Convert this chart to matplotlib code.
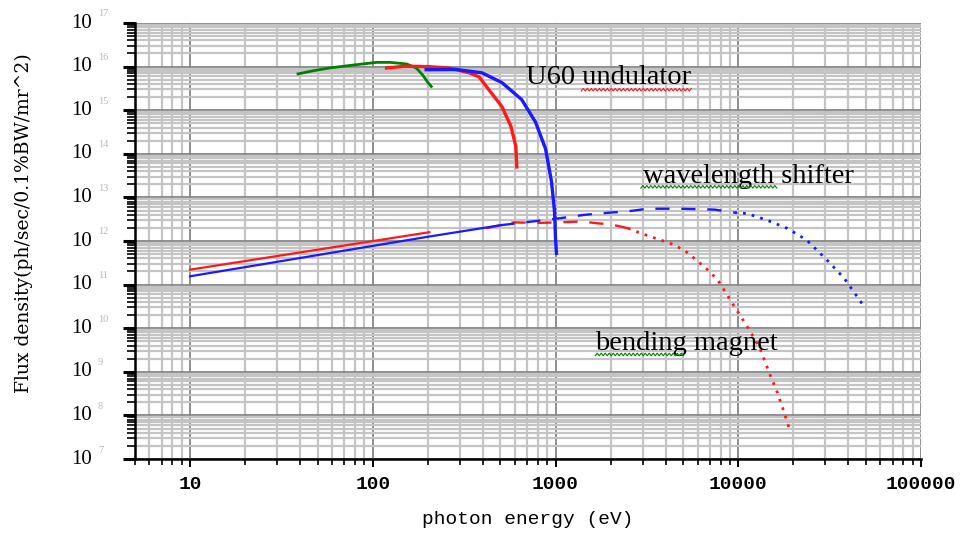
import numpy as np
import matplotlib
matplotlib.use("Agg")
import matplotlib.pyplot as plt
from matplotlib.ticker import LogLocator, NullFormatter, FixedLocator

# --- U60 undulator harmonics ---
und1_e = [39, 47, 58, 72, 88, 105, 124, 153, 173, 187, 199, 209]
und1_f = [6.8e15, 8.0e15, 9.3e15, 1.04e16, 1.15e16, 1.25e16, 1.25e16, 1.15e16, 9.3e15, 6.5e15, 4.5e15, 3.5e15]

und2_e = [119, 150, 200, 262, 337, 382, 432, 509, 570, 606, 614]
und2_f = [9.3e15, 1.02e16, 1.0e16, 9.3e15, 7.2e15, 5.8e15, 2.95e15, 1.21e15, 4.3e14, 1.5e14, 5.0e13]

und3_e = [196, 286, 396, 509, 653, 778, 882, 951, 988, 1000, 1012]
und3_f = [8.5e15, 8.6e15, 7.2e15, 4.3e15, 1.75e15, 5.3e14, 1.3e14, 2.3e13, 4.7e12, 1.15e12, 5.2e11]

# --- bending magnet (red) ---
bm_solid_e = [10, 204]
bm_solid_f = [2.2e11, 1.59e12]
bm_dash_e = [417, 591, 809, 1040, 1384, 1713, 2016, 2492]
bm_dash_f = [1.96e12, 2.67e12, 2.6e12, 2.67e12, 2.8e12, 2.54e12, 2.4e12, 1.96e12]
bm_dot_e = [2492, 2933, 3628, 4490, 5280, 6790, 7700, 9500, 11600, 13200, 14700, 16300, 17800, 19000]
bm_dot_f = [1.96e12, 1.5e12, 1.11e12, 8.1e11, 5.4e11, 2.2e11, 1.3e11, 3.2e10, 8.6e9, 3.3e9, 1.0e9, 3.5e8, 1.2e8, 5e7]

# --- wavelength shifter (blue) ---
ws_solid_e = [10, 200, 500]
ws_solid_f = [1.55e11, 1.25e12, 2.3e12]
ws_dash_e = [500, 1040, 1455, 2016, 2400, 3200, 4840, 7420, 9500]
ws_dash_f = [2.3e12, 3.3e12, 4.0e12, 4.5e12, 4.7e12, 5.5e12, 5.5e12, 5.25e12, 4.5e12]
ws_dot_e = [9500, 11200, 14400, 18500, 23700, 30500, 38000, 48400]
ws_dot_f = [4.5e12, 4.25e12, 3.0e12, 1.96e12, 1.05e12, 3.7e11, 1.4e11, 3.3e10]

x_ticks = [10, 100, 1000, 10000, 100000]
y_exps = list(range(7, 18))

RED = "#ff1a1a"
BLUE = "#1a1aff"
GREEN = "#008000"

fig = plt.figure(figsize=(9.61, 5.36), dpi=100)
ax = fig.add_axes([135 / 961, 1 - 459 / 536, (921 - 135) / 961, (459 - 23) / 536])
ax.set_xscale("log")
ax.set_yscale("log")
ax.set_xlim(5, 1e5)
ax.set_ylim(1e7, 1e17)
ax.autoscale(False)

# grid
ax.xaxis.set_minor_locator(LogLocator(base=10, subs=np.arange(2, 10), numticks=20))
ax.yaxis.set_minor_locator(LogLocator(base=10, subs=np.arange(2, 10), numticks=30))
ax.yaxis.set_major_locator(FixedLocator([10.0 ** e for e in y_exps]))
ax.xaxis.set_major_locator(FixedLocator(x_ticks))
ax.grid(which="minor", color="#c4c4c4", lw=1.6, zorder=0)
ax.grid(which="major", color="#858585", lw=1.3, zorder=0)
ax.set_axisbelow(True)

for s in ["top", "right"]:
    ax.spines[s].set_visible(False)
for s in ["left", "bottom"]:
    ax.spines[s].set_linewidth(1.8)

# curves
ax.plot(und1_e, und1_f, color=GREEN, lw=2.0, zorder=3)
ax.plot(und2_e, und2_f, color=RED, lw=2.4, zorder=3)
ax.plot(und3_e, und3_f, color=BLUE, lw=2.4, zorder=3)

ax.plot(bm_solid_e, bm_solid_f, color=RED, lw=1.6, zorder=3)
ax.plot(bm_dash_e, bm_dash_f, color=RED, lw=1.7, dashes=(6, 5), zorder=3)
ax.plot(bm_dot_e, bm_dot_f, color=RED, lw=2.0, dashes=(1, 2.2), zorder=3)

ax.plot(ws_solid_e, ws_solid_f, color=BLUE, lw=1.6, zorder=3)
ax.plot(ws_dash_e, ws_dash_f, color=BLUE, lw=1.7, dashes=(6, 5), zorder=3)
ax.plot(ws_dot_e, ws_dot_f, color=BLUE, lw=2.0, dashes=(1, 2.2), zorder=3)

# ticks
ax.tick_params(axis="y", which="major", direction="out", length=9, width=2.2, labelleft=False)
ax.tick_params(axis="y", which="minor", direction="out", length=6, width=1.2)
ax.tick_params(axis="x", which="major", direction="out", length=6, width=1.4, pad=6)
ax.tick_params(axis="x", which="minor", direction="out", length=4, width=1.2)
ax.yaxis.set_minor_formatter(NullFormatter())
ax.xaxis.set_minor_formatter(NullFormatter())
ax.set_xticklabels([str(v) for v in x_ticks], family="Liberation Mono", fontsize=14, fontweight="bold")

for e in y_exps:
    ax.annotate("10", xy=(0, 10.0 ** e), xycoords=("axes fraction", "data"),
                xytext=(-43, 0), textcoords="offset pixels", ha="right", va="center",
                family="Liberation Serif", fontsize=15, annotation_clip=False)
    ax.annotate(str(e), xy=(0, 10.0 ** e), xycoords=("axes fraction", "data"),
                xytext=(-37, 9), textcoords="offset pixels", ha="left", va="center",
                family="Liberation Serif", fontsize=7.5, color="#b8b8b8", annotation_clip=False)

ax.set_xlabel("photon energy (eV)", family="Liberation Mono", fontsize=14, labelpad=13)
fig.text(24 / 961, 1 - 223 / 536, "Flux density(ph/sec/0.1%BW/mr^2)", rotation=90,
         ha="center", va="center", family="DejaVu Serif", fontsize=13.5)

# labels
lab_kw = dict(family="Liberation Serif", fontsize=20.5, ha="left", va="baseline", zorder=5)
ax.text(687, 4.0e15, "U60 undulator", **lab_kw)
ax.text(3010, 2.1e13, "wavelength shifter", **lab_kw)
ax.text(1650, 3.2e9, "bending magnet", **lab_kw)


def squiggle(x0, x1, y, color):
    # spell-check style wavy underline
    p0 = ax.transData.transform((x0, y))
    p1 = ax.transData.transform((x1, y))
    xs = np.arange(p0[0], p1[0], 2.0)
    ys = p0[1] + np.where(np.arange(len(xs)) % 2, 1.3, -1.3)
    pts = ax.transData.inverted().transform(np.column_stack([xs, ys]))
    ax.plot(pts[:, 0], pts[:, 1], color=color, lw=0.8, zorder=5)


squiggle(1384, 5620, 2.95e15, RED)
squiggle(2930, 16300, 1.75e13, GREEN)
squiggle(1650, 5090, 2.5e9, GREEN)

fig.savefig("out.png", dpi=100)
